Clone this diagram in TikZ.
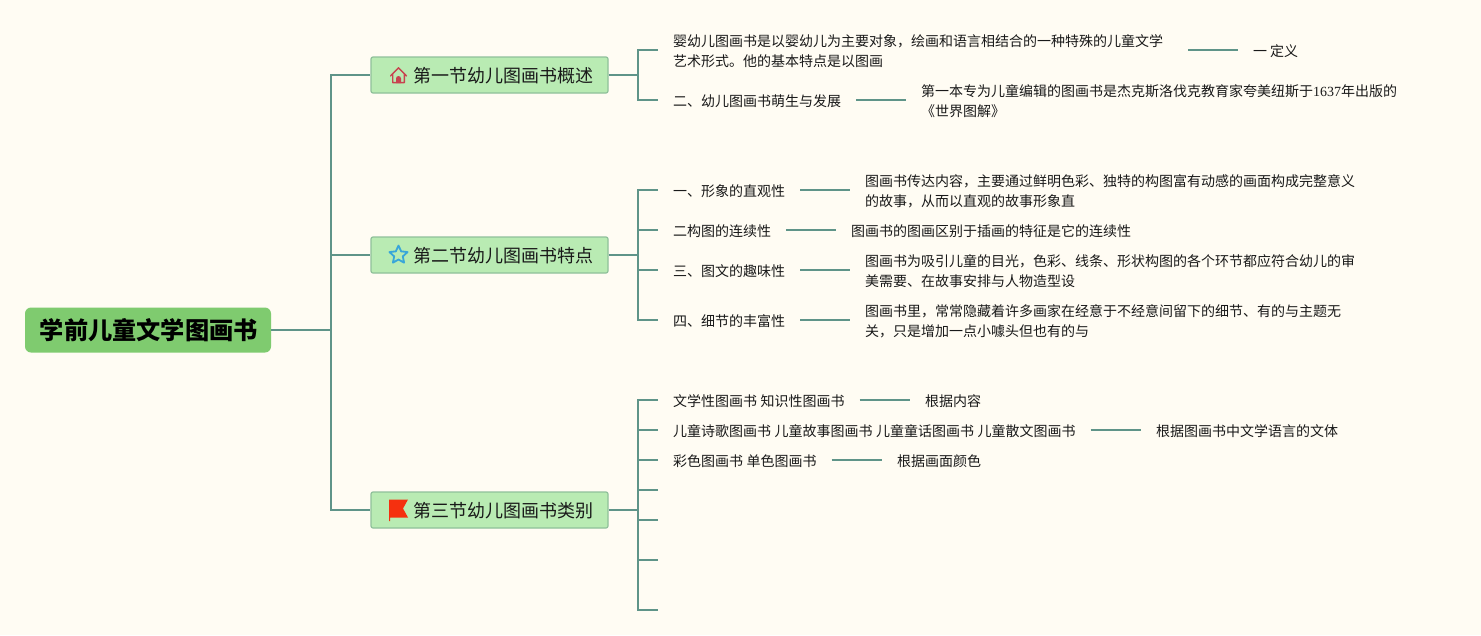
\documentclass[tikz,border=0pt]{standalone}
\usepackage{fontspec}
\setmainfont{Noto Sans CJK SC}
\newfontfamily\numfont{Liberation Serif}
\usetikzlibrary{shapes.geometric}
\definecolor{bgc}{HTML}{FFFCF3}
\definecolor{linec}{HTML}{5F9488}
\definecolor{rootc}{HTML}{7FCB6F}
\definecolor{secc}{HTML}{B9EBB3}
\definecolor{secb}{HTML}{8FC09A}
\definecolor{housec}{HTML}{C8434F}
\definecolor{starc}{HTML}{38A6D9}
\definecolor{flagc}{HTML}{F5300F}
\newcommand{\wsp}{\hspace{3.5pt}}
\tikzset{
  conn/.style={draw=linec,line width=1.8pt},
  up/.style={yshift=1pt},
  rootbox/.style={fill=rootc,rounded corners=6pt,minimum width=246pt,minimum height=45pt,inner sep=0pt,
    text height=20pt,text depth=0.88pt,
    font=\fontsize{24.2}{28}\selectfont\bfseries,text=black},
  secbox/.style={fill=secc,draw=secb,line width=1.2pt,rounded corners=2pt,minimum width=237pt,minimum height=36pt,inner sep=0pt,
    text height=16pt,text depth=0.32pt,
    font=\fontsize{18}{22}\selectfont,text=black!90},
  leaf/.style={anchor=west,inner ysep=0pt,inner xsep=0pt,outer xsep=15pt,outer ysep=0pt,align=left,
    font=\fontsize{14}{20}\selectfont,text=black!90},
}
\begin{document}
\begin{tikzpicture}[x=1pt,y=-1pt]
\path[fill=bgc] (0,0) rectangle (1481,635);
\useasboundingbox (0,0) rectangle (1481,635);
% main nodes
\node[rootbox] (root) at (148,330) {\hspace*{1.6pt}学前儿童文学图画书};
\node[secbox] (s1) at (489.5,75) {\hspace*{27pt}第一节幼儿图画书概述};
\node[secbox] (s2) at (489.5,255) {\hspace*{27pt}第二节幼儿图画书特点};
\node[secbox] (s3) at (489.5,510) {\hspace*{27pt}第三节幼儿图画书类别};
% junctions
\coordinate (t0) at (331,330);
\coordinate (b1) at (638,75);
\coordinate (b2) at (638,255);
\coordinate (b3) at (638,510);
% section 1
\node[leaf,text width=500pt] (a1) at (658,51) {婴幼儿图画书是以婴幼儿为主要对象，绘画和语言相结合的一种特殊的儿童文学\\艺术形式。他的基本特点是以图画};
\node[leaf] (a1x) at (1238,51) {一 定义};
\node[leaf] (a2) at (658,101) {二、幼儿图画书萌生与发展};
\node[leaf] (a2x) at (906,101) {第一本专为儿童编辑的图画书是杰克斯洛伐克教育家夸美纽斯于{\numfont 1637}年出版的\\《世界图解》};
% section 2
\node[leaf] (c1) at (658,191) {一、形象的直观性};
\node[leaf] (c1x) at (850,191) {图画书传达内容，主要通过鲜明色彩、独特的构图富有动感的画面构成完整意义\\的故事，从而以直观的故事形象直};
\node[leaf] (c2) at (658,231) {二构图的连续性};
\node[leaf] (c2x) at (836,231) {图画书的图画区别于插画的特征是它的连续性};
\node[leaf] (c3) at (658,271) {三、图文的趣味性};
\node[leaf] (c3x) at (850,271) {图画书为吸引儿童的目光，色彩、线条、形状构图的各个环节都应符合幼儿的审\\美需要、在故事安排与人物造型设};
\node[leaf] (c4) at (658,321) {四、细节的丰富性};
\node[leaf] (c4x) at (850,321) {图画书里，常常隐藏着许多画家在经意于不经意间留下的细节、有的与主题无\\关，只是增加一点小噱头但也有的与};
% section 3
\node[leaf] (d1) at (658,401) {文学性图画书\wsp 知识性图画书};
\node[leaf] (d1x) at (910,401) {根据内容};
\node[leaf] (d2) at (658,431) {儿童诗歌图画书\wsp 儿童故事图画书\wsp 儿童童话图画书\wsp 儿童散文图画书};
\node[leaf] (d2x) at (1141,431) {根据图画书中文学语言的文体};
\node[leaf] (d3) at (658,461) {彩色图画书\wsp 单色图画书};
\node[leaf] (d3x) at (882,461) {根据画面颜色};
\coordinate (e1) at (658,490);
\coordinate (e2) at (658,520);
\coordinate (e3) at (658,560);
\coordinate (e4) at (658,610);
% connectors
\draw[conn] (root.east) -- (t0);
\draw[conn] (t0) |- (s1.west);
\draw[conn] (t0) |- (s2.west);
\draw[conn] (t0) |- (s3.west);
\foreach \s/\b in {s1/b1,s2/b2,s3/b3} \draw[conn] (\s.east) -- (\b);
\foreach \n in {a1,a2} \draw[conn] (b1) |- ([up]\n.west);
\foreach \n in {c1,c2,c3,c4} \draw[conn] (b2) |- ([up]\n.west);
\foreach \n in {d1,d2,d3} \draw[conn] (b3) |- ([up]\n.west);
\foreach \n in {e1,e2,e3,e4} \draw[conn] (b3) |- (\n);
\foreach \n in {a1,a2,c1,c2,c3,c4,d1,d2,d3} \draw[conn] ([up]\n.east) -- ([up]\n x.west);
% icons
\draw[draw=housec,line width=1.4pt,line join=round,line cap=round]
  (390.5,76) -- (398.5,67.8) -- (406.5,76) (392.7,74) -- (392.7,82.6) -- (404.3,82.6) -- (404.3,74);
\fill[housec] (396,83) -- (396,78.5) arc[start angle=180,end angle=0,radius=2.5pt] -- (401,83) -- cycle;
\node[star,star points=5,star point ratio=2.1,draw=starc,line width=1.8pt,fill=none,line join=round,
  minimum size=19pt,inner sep=0pt] (icon2) at (398.5,255) {};
\fill[flagc] (389,499.5) -- (408,499.5) -- (403,508.5) -- (408,517.5) -- (390.2,517.5) -- (390.2,521) -- (389,521) -- cycle;
\end{tikzpicture}
\end{document}
